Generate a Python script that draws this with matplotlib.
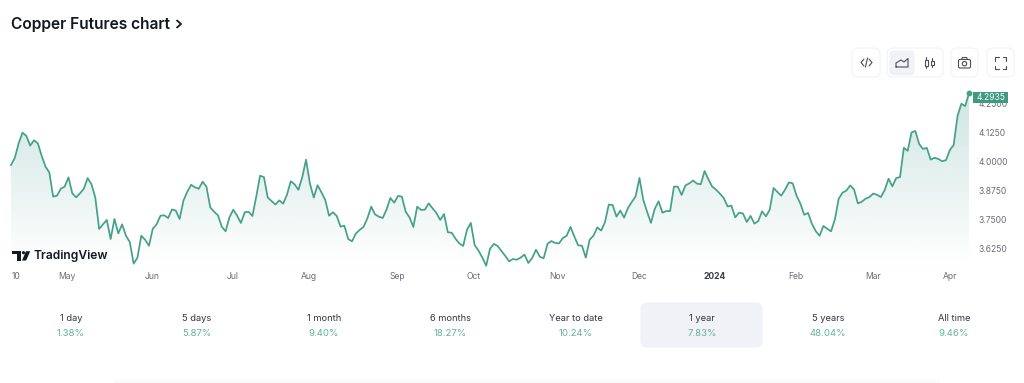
import numpy as np
import matplotlib
matplotlib.use('Agg')
import matplotlib.pyplot as plt
from matplotlib.patches import FancyBboxPatch, Rectangle, Circle, Polygon

plt.rcParams['font.family'] = ['Inter', 'DejaVu Sans']

# Daily close, one year up to the April contract print
prices_2023_a = [3.985, 4.016, 4.078, 4.124, 4.110, 4.068, 4.091, 4.078, 4.025, 3.978, 3.953, 3.849, 3.853, 3.883, 3.892, 3.932, 3.863, 3.846, 3.863, 3.883, 3.929, 3.902, 3.845, 3.710, 3.730, 3.749, 3.667, 3.753, 3.691, 3.730, 3.681, 3.654, 3.561, 3.587, 3.681, 3.664, 3.638, 3.711, 3.730, 3.767, 3.769, 3.757, 3.794, 3.789, 3.753, 3.832, 3.870, 3.900, 3.889, 3.883, 3.913, 3.892, 3.803, 3.784, 3.769, 3.720, 3.700, 3.760, 3.793, 3.767, 3.736, 3.782, 3.784, 3.766, 3.849, 3.939, 3.933, 3.845, 3.830, 3.815, 3.833, 3.819, 3.856, 3.915, 3.902, 3.878, 3.932, 4.008, 3.906, 3.845, 3.898, 3.868, 3.835, 3.767, 3.782, 3.766, 3.720]
prices_2023_b = [3.724, 3.667, 3.657, 3.691, 3.706, 3.719, 3.756, 3.806, 3.773, 3.763, 3.757, 3.794, 3.843, 3.823, 3.852, 3.849, 3.784, 3.760, 3.719, 3.806, 3.792, 3.793, 3.820, 3.799, 3.779, 3.749, 3.774, 3.696, 3.694, 3.668, 3.648, 3.637, 3.707, 3.736, 3.641, 3.617, 3.587, 3.552, 3.625, 3.646, 3.637, 3.615, 3.594, 3.571, 3.581, 3.578, 3.587, 3.600, 3.564, 3.585, 3.621, 3.591, 3.584, 3.646, 3.658, 3.650, 3.648, 3.671, 3.681, 3.719, 3.678, 3.640, 3.638, 3.587, 3.664, 3.681, 3.717, 3.703, 3.739, 3.815, 3.813, 3.763, 3.789, 3.759, 3.800, 3.826, 3.850, 3.929, 3.835, 3.784, 3.736, 3.797, 3.829, 3.780, 3.787, 3.787, 3.892, 3.892]
prices_2024 = [3.856, 3.897, 3.906, 3.918, 3.905, 3.902, 3.959, 3.923, 3.892, 3.879, 3.862, 3.843, 3.807, 3.810, 3.760, 3.780, 3.777, 3.740, 3.766, 3.733, 3.744, 3.786, 3.764, 3.793, 3.886, 3.869, 3.853, 3.879, 3.910, 3.906, 3.853, 3.819, 3.771, 3.779, 3.733, 3.701, 3.681, 3.723, 3.711, 3.700, 3.751, 3.840, 3.866, 3.875, 3.897, 3.880, 3.820, 3.827, 3.840, 3.847, 3.862, 3.857, 3.847, 3.877, 3.926, 3.893, 3.929, 3.933, 4.059, 4.046, 4.125, 4.131, 4.075, 4.054, 4.058, 4.008, 4.016, 4.011, 4.001, 4.006, 4.049, 4.071, 4.195, 4.248, 4.238, 4.2935]

month_labels = ['10', 'May', 'Jun', 'Jul', 'Aug', 'Sep', 'Oct', 'Nov', 'Dec', '2024', 'Feb', 'Mar', 'Apr']
month_index = [1.2, 14.6, 36.8, 57.7, 77.8, 100.7, 120.8, 142.7, 163.9, 183.7, 204.8, 224.9, 245.0]
price_ticks = [3.625, 3.75, 3.875, 4.0, 4.125, 4.25]

period_labels = ['1 day', '5 days', '1 month', '6 months', 'Year to date', '1 year', '5 years', 'All time']
period_changes = ['1.38%', '5.87%', '9.40%', '18.27%', '10.24%', '7.83%', '48.04%', '9.46%']

GREEN = '#45a08a'
TAG_GREEN = '#3f9a80'
SOFT_GREEN = '#62b39f'
DARK = '#131722'
GREY = '#6a6d78'
PALE = '#f0f2f8'
EDGE = '#f2f3f5'
ICON = '#4a4d56'

prices = np.array(prices_2023_a + prices_2023_b + prices_2024)
days = np.arange(len(prices))

fig = plt.figure(figsize=(10.24, 3.83), dpi=100, facecolor='white')

# chart area, pixel box 11..969 / 88..266
ax = fig.add_axes([11 / 1024, 1 - 266 / 383, 958 / 1024, 178 / 383])
ymin, ymax = 3.5510, 4.3157

grad = np.ones((256, 2, 4))
grad[..., :3] = matplotlib.colors.to_rgb(GREEN)
grad[..., 3] = np.linspace(0.27, 0.0, 256)[:, None]
im = ax.imshow(grad, extent=[0, len(prices) - 1, ymin, ymax], aspect='auto', origin='upper', zorder=1)
area = ax.fill_between(days, prices, ymin, facecolor='none', edgecolor='none')
im.set_clip_path(area.get_paths()[0], transform=ax.transData)

ax.plot(days, prices, color=GREEN, lw=1.25, zorder=3, clip_on=False, solid_joinstyle='round')
ax.plot(days[-1], prices[-1], 'o', color=GREEN, ms=3.2, zorder=4, clip_on=False)

ax.set_xlim(0, len(prices) - 1)
ax.set_ylim(ymin, ymax)
ax.set_xticks(month_index)
ax.set_xticklabels(month_labels, fontsize=6.2, color=GREY)
ax.get_xticklabels()[9].set_fontweight('bold')
ax.get_xticklabels()[9].set_color('#3a3d46')
ax.yaxis.tick_right()
ax.set_yticks(price_ticks)
ax.set_yticklabels([f'{p:.4f}' for p in price_ticks], fontsize=6.1, color=GREY)
ax.tick_params(axis='x', length=0, pad=4)
ax.tick_params(axis='y', length=0, pad=7)
for s in ax.spines.values():
    s.set_visible(False)
ax.patch.set_alpha(0)

# overlay in pixel coordinates for the page furniture around the chart
ui = fig.add_axes([0, 0, 1, 1], zorder=5)
ui.set_xlim(0, 1024)
ui.set_ylim(383, 0)
ui.axis('off')


def box(x0, y0, x1, y1, r=6, fc='white', ec=EDGE, lw=0.8):
    ui.add_patch(FancyBboxPatch((x0 + r, y0 + r), x1 - x0 - 2 * r, y1 - y0 - 2 * r,
                                boxstyle=f'round,pad={r},rounding_size={r}', fc=fc, ec=ec, lw=lw))


def stroke(xs, ys, lw=0.8, color=ICON):
    ui.plot(xs, ys, color=color, lw=lw, solid_capstyle='round', solid_joinstyle='round')


ui.text(11, 24, 'Copper Futures chart', fontsize=11.2, fontweight='semibold', color=DARK, va='center', ha='left')
stroke([177, 181, 177], [20.5, 24, 27.5], lw=1.3, color=DARK)

# toolbar
box(852, 48, 880, 77)
box(887, 48, 943, 77)
box(890, 51, 914, 75, r=4, fc=PALE, ec=PALE)
box(951, 48, 978, 77)
box(987, 48, 1014, 77)

stroke([864, 861, 864], [59, 62.5, 66])
stroke([869, 872, 869], [59, 62.5, 66])
stroke([865.5, 867.5], [67, 58])

stroke([896, 896, 901, 904, 908, 908, 896], [67, 63, 60, 62, 58.5, 67, 67])

for cx, top, bot, y0, y1 in [(926, 57, 68, 59.5, 65.5), (932, 58, 67, 60.5, 64.5)]:
    stroke([cx, cx], [top, bot], lw=0.8)
    ui.add_patch(Rectangle((cx - 1.5, y0), 3, y1 - y0, fc='white', ec=ICON, lw=0.8, zorder=4))

box(958.5, 59.5, 970.5, 68, r=1.5, fc='none', ec=ICON, lw=0.8)
stroke([961.5, 962.5, 966.5, 967.5], [59.5, 57.5, 57.5, 59.5])
ui.add_patch(Circle((964.5, 63.7), 2.2, fc='none', ec=ICON, lw=0.8))

for sx, sy, cx, cy in [(1, 1, 995, 57), (-1, 1, 1006, 57), (1, -1, 995, 69), (-1, -1, 1006, 69)]:
    stroke([cx, cx, cx + 3.5 * sx], [cy + 3.5 * sy, cy, cy])

# last price tag
ui.add_patch(Rectangle((973, 92), 35, 10.5, fc=TAG_GREEN, ec='none'))
ui.text(990.5, 97.4, f'{prices[-1]:.4f}', fontsize=6.1, color='white', ha='center', va='center')

# TradingView mark
ui.add_patch(Rectangle((12, 251.2), 8.8, 2.6, fc=DARK, ec='none'))
ui.add_patch(Rectangle((16.7, 251.2), 4.1, 9.3, fc=DARK, ec='none'))
ui.add_patch(Circle((23.5, 252.7), 1.6, fc=DARK, ec='none'))
ui.add_patch(Polygon([[26, 251.2], [30.2, 251.2], [26.2, 260.5], [22, 260.5]], fc=DARK, ec='none'))
ui.text(34, 256, 'TradingView', fontsize=8.7, fontweight='semibold', color=DARK, ha='left', va='center')

# performance row
box(641, 303, 762, 347, r=6, fc=PALE, ec=PALE)
period_x = [71, 197, 324, 450, 576, 702, 828, 954]
for cx, lab, chg in zip(period_x, period_labels, period_changes):
    ui.text(cx, 318.5, lab, fontsize=6.7, color='#33363f', ha='center', va='center')
    ui.text(cx, 333, chg, fontsize=6.9, color=SOFT_GREEN, ha='center', va='center')

# start of the next card at the bottom edge
ui.add_patch(Rectangle((115, 380), 825, 3, fc='#fafafa', ec='none'))

fig.savefig('out.png', dpi=100)
